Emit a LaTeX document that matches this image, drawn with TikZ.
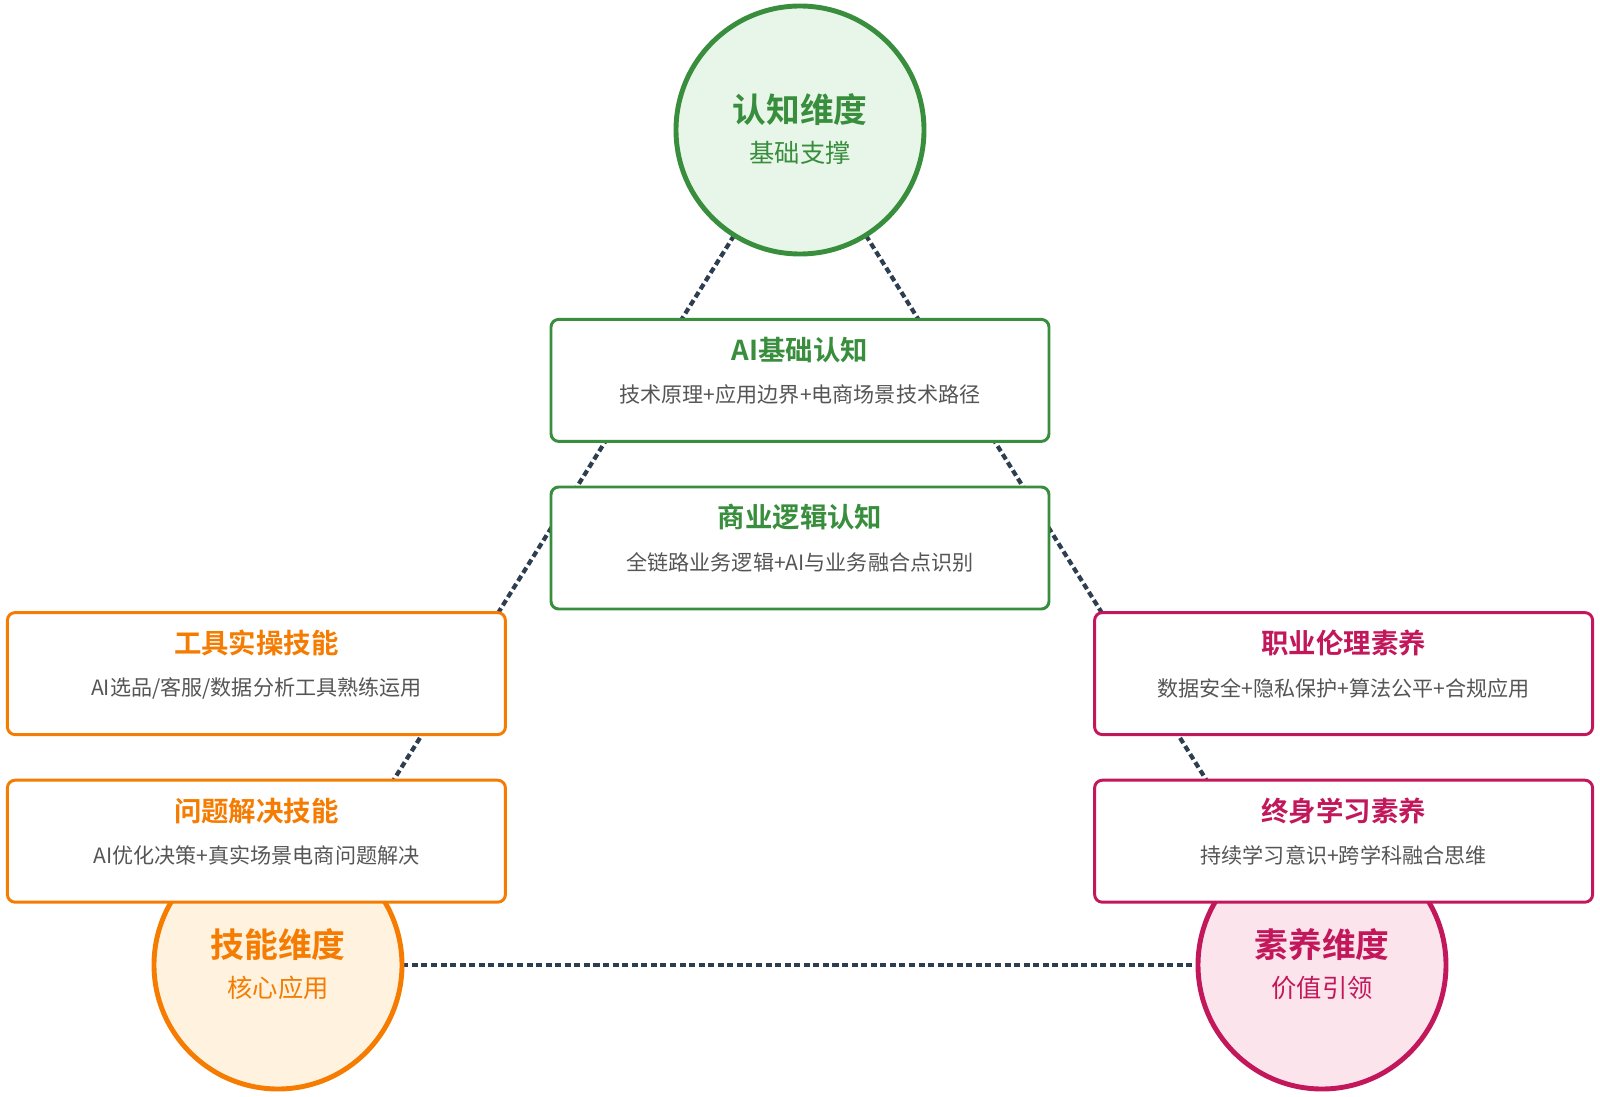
\documentclass[tikz,border=0pt]{standalone}
\usepackage{fontspec}
\setmainfont{Noto Sans CJK SC}[BoldFont={Noto Sans CJK SC Bold}]
\usepackage{tikz}
\usetikzlibrary{calc,backgrounds,positioning}
\definecolor{cogline}{HTML}{388E3C}
\definecolor{cogfill}{HTML}{E8F5E9}
\definecolor{sklline}{HTML}{F57C00}
\definecolor{sklfill}{HTML}{FFF3E0}
\definecolor{litline}{HTML}{C2185B}
\definecolor{litfill}{HTML}{FCE4EC}
\definecolor{bodytext}{HTML}{555555}
\definecolor{linkline}{HTML}{2C3E50}
\tikzset{
  dim/.style={circle,line width=3.5pt,minimum size=6.2cm,inner sep=0pt},
  item/.style={rectangle,rounded corners=5.5pt,line width=2.1pt,fill=white,minimum width=12.45cm,minimum height=3.05cm},
  link/.style={linkline,line width=3pt,dash pattern=on 4.3pt off 2.5pt},
  dimtitle/.style={font=\fontsize{24}{28}\selectfont\bfseries},
  dimsub/.style={font=\fontsize{18}{20}\selectfont},
  itemtitle/.style={font=\fontsize{19.5}{23}\selectfont\bfseries},
  itembody/.style={font=\fontsize{15}{18}\selectfont,text=bodytext},
}

\begin{document}
\begin{tikzpicture}
\useasboundingbox (0,0) rectangle (40,-27.425);
% three dimensions
\node[dim,draw=cogline,fill=cogfill] (cog) at (20,-3.25) {};
\node[dim,draw=sklline,fill=sklfill] (skl) at (6.95,-24.125) {};
\node[dim,draw=litline,fill=litfill] (lit) at (33.05,-24.125) {};
\node[dimtitle,text=cogline] (cogT) at ($(cog)+(0,0.5)$) {认知维度};
\node[dimsub,text=cogline] (cogS) at ($(cog)+(0,-0.575)$) {基础支撑};
\node[dimtitle,text=sklline] (sklT) at ($(skl)+(0,0.5)$) {技能维度};
\node[dimsub,text=sklline] (sklS) at ($(skl)+(0,-0.575)$) {核心应用};
\node[dimtitle,text=litline] (litT) at ($(lit)+(0,0.5)$) {素养维度};
\node[dimsub,text=litline] (litS) at ($(lit)+(0,-0.575)$) {价值引领};
\begin{scope}[on background layer]
\draw[link] (cog.center) -- (skl.center);
\draw[link] (cog.center) -- (lit.center);
\draw[link] (skl.center) -- (lit.center);
\end{scope}
% cognition items
\node[item,draw=cogline] (ai) at (20,-9.51) {};
\node[itemtitle,text=cogline] (aiT) at ($(ai.north)+(0,-0.8)$) {AI基础认知};
\node[itembody] (aiB) at ($(ai.north)+(0,-1.925)$) {技术原理+应用边界+电商场景技术路径};
\node[item,draw=cogline] (biz) at (20,-13.7) {};
\node[itemtitle,text=cogline] (bizT) at ($(biz.north)+(0,-0.8)$) {商业逻辑认知};
\node[itembody] (bizB) at ($(biz.north)+(0,-1.925)$) {全链路业务逻辑+AI与业务融合点识别};
% skill items
\node[item,draw=sklline] (tool) at (6.41,-16.84) {};
\node[itemtitle,text=sklline] (toolT) at ($(tool.north)+(0,-0.8)$) {工具实操技能};
\node[itembody] (toolB) at ($(tool.north)+(0,-1.925)$) {AI选品/客服/数据分析工具熟练运用};
\node[item,draw=sklline] (solve) at (6.41,-21.03) {};
\node[itemtitle,text=sklline] (solveT) at ($(solve.north)+(0,-0.8)$) {问题解决技能};
\node[itembody] (solveB) at ($(solve.north)+(0,-1.925)$) {AI优化决策+真实场景电商问题解决};
% literacy items
\node[item,draw=litline] (eth) at (33.59,-16.84) {};
\node[itemtitle,text=litline] (ethT) at ($(eth.north)+(0,-0.8)$) {职业伦理素养};
\node[itembody] (ethB) at ($(eth.north)+(0,-1.925)$) {数据安全+隐私保护+算法公平+合规应用};
\node[item,draw=litline] (learn) at (33.59,-21.03) {};
\node[itemtitle,text=litline] (learnT) at ($(learn.north)+(0,-0.8)$) {终身学习素养};
\node[itembody] (learnB) at ($(learn.north)+(0,-1.925)$) {持续学习意识+跨学科融合思维};
\end{tikzpicture}
\end{document}
